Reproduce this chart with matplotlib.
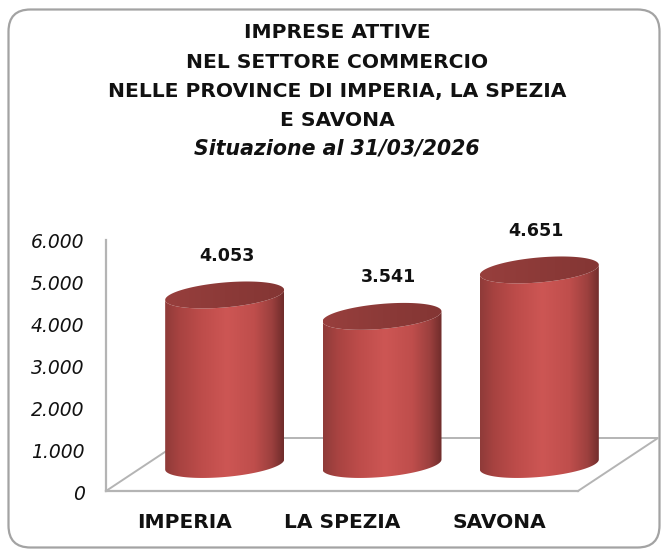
import numpy as np
import matplotlib
matplotlib.use("Agg")
import matplotlib.pyplot as plt
from matplotlib.colors import LinearSegmentedColormap
from matplotlib.patches import FancyBboxPatch, PathPatch
from matplotlib.path import Path
from matplotlib.transforms import Affine2D, ScaledTranslation

province = ["IMPERIA", "LA SPEZIA", "SAVONA"]
imprese = [4053, 3541, 4651]
value_labels = ["4.053", "3.541", "4.651"]
y_ticks = [0, 1000, 2000, 3000, 4000, 5000, 6000]
y_labels = ["0", "1.000", "2.000", "3.000", "4.000", "5.000", "6.000"]
title_lines = ["IMPRESE ATTIVE", "NEL SETTORE COMMERCIO",
               "NELLE PROVINCE DI IMPERIA, LA SPEZIA", "E SAVONA"]
subtitle = "Situazione al 31/03/2026"

W, H = 662, 549
fig = plt.figure(figsize=(W / 100, H / 100), dpi=100, facecolor="white")

# frame of the chart, in pixels from top left
px = Affine2D().scale(1, -1).translate(0, H)
frame = FancyBboxPatch((8.5 + 22, 9.5 + 22), 651 - 44, 538 - 44,
                       boxstyle="round,pad=22,rounding_size=22",
                       transform=px, fc="white", ec="#a3a3a3", lw=1.6, zorder=-1)
fig.add_artist(frame)

# plot area: front plane of the 3d box
left, right, bottom, top = 106, 578, 491, 240
ax = fig.add_axes([left / W, 1 - bottom / H, (right - left) / W, (bottom - top) / H])
ax.set_xlim(-0.5, 2.5)
ax.set_ylim(0, 6000)
ax.patch.set_alpha(0)
for s in ["top", "right"]:
    ax.spines[s].set_visible(False)
for s in ["left", "bottom"]:
    ax.spines[s].set_color("#b4b4b4")
    ax.spines[s].set_linewidth(1.6)

x_per_px = 3 / (right - left)
y_per_px = 6000 / (bottom - top)

# floor depth
dx = 80 * x_per_px
dy = 53 * y_per_px
ax.plot([-0.5, -0.5 + dx, 2.5 + dx, 2.5], [0, dy, dy, 0], color="#b4b4b4", lw=1.4,
        clip_on=False, zorder=1)

body_cmap = LinearSegmentedColormap.from_list("body", [
    (0, "#8f3b39"), (0.12, "#a84341"), (0.3, "#bd4c4a"), (0.52, "#cd5654"),
    (0.75, "#bf4e4c"), (0.9, "#9c403e"), (1, "#6f2c2b")])
top_cmap = LinearSegmentedColormap.from_list("top", [
    (0, "#983f3d"), (0.5, "#8c3a38"), (1, "#843634")])
grad = np.linspace(0, 1, 256).reshape(1, -1)

half_w = 59.5 * x_per_px
semi_b = 12.5 * y_per_px
tilt = 5 * y_per_px
t = np.linspace(0, 2 * np.pi, 121)

for i, v in enumerate(imprese):
    cx = i + dx / 2
    base = dy / 2
    x_e = cx + half_w * np.cos(t)
    y_e = semi_b * np.sin(t) + tilt * np.cos(t)
    lower = t >= np.pi
    order = np.argsort(x_e[lower])
    # outline of the body: lower half of the base, then back along the top edge
    xs = np.r_[x_e[lower][order], x_e[lower][order][::-1]]
    ys = np.r_[base + y_e[lower][order], base + v + y_e[lower][order][::-1]]
    body = PathPatch(Path(np.c_[xs, ys]), fc="none", ec="none", transform=ax.transData)
    ax.add_patch(body)
    im = ax.imshow(grad, cmap=body_cmap, aspect="auto", zorder=2,
                   extent=[cx - half_w, cx + half_w, 0, 6000])
    im.set_clip_box(fig.bbox)
    im.set_clip_path(body)
    cap = PathPatch(Path(np.c_[x_e, base + v + y_e]), fc="none", ec="none", transform=ax.transData)
    ax.add_patch(cap)
    im2 = ax.imshow(grad, cmap=top_cmap, aspect="auto", zorder=3,
                    extent=[cx - half_w, cx + half_w, 0, 6000])
    im2.set_clip_box(fig.bbox)
    im2.set_clip_path(cap)

ax.set_xlim(-0.5, 2.5)
ax.set_ylim(0, 6000)

label_shift = [2, 6, -3]
for i, v in enumerate(imprese):
    ax.annotate(value_labels[i], (i + dx / 2, dy / 2 + v), xytext=(label_shift[i] * 0.72, 39 * 0.72),
                textcoords="offset points", ha="center", va="center",
                family="DejaVu Sans", weight="bold", fontsize=12.6, color="#111111",
                annotation_clip=False, zorder=5)

ax.set_xticks(range(len(province)))
ax.set_xticklabels(province, family="DejaVu Sans", weight="bold", fontsize=14.5, color="#111111")
ax.set_yticks(y_ticks)
ax.set_yticklabels(y_labels, family="DejaVu Sans", style="italic", fontsize=13.5, color="#111111")
ax.tick_params(axis="x", length=0, pad=15.5)
ax.tick_params(axis="y", length=0, pad=15.5)
# tick labels sit slightly below their value in the reference
down = ScaledTranslation(0, -1 / 100, fig.dpi_scale_trans)
for lab in ax.get_yticklabels():
    lab.set_transform(lab.get_transform() + down)

title_y = [32, 62, 91, 121]
for s, y in zip(title_lines, title_y):
    fig.text(337 / W, 1 - y / H, s, ha="center", va="center", family="DejaVu Sans",
             weight="bold", fontsize=14.6, color="#111111")
fig.text(337 / W, 1 - 149 / H, subtitle, ha="center", va="center", family="DejaVu Sans",
         weight="bold", style="italic", fontsize=14.8, color="#111111")

fig.savefig("out.png", dpi=100, facecolor="white")
